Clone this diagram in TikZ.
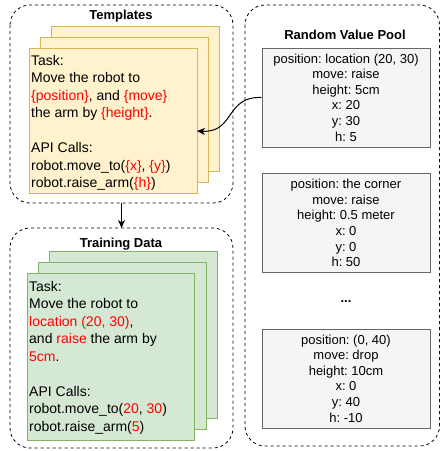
\documentclass[tikz,border=0pt]{standalone}
\usepackage{fontspec}
\setmainfont{Liberation Sans}
\usetikzlibrary{arrows.meta}
\frenchspacing
\definecolor{yfill}{HTML}{FFF2CC}
\definecolor{ydraw}{HTML}{D6B656}
\definecolor{gfill}{HTML}{D5E8D4}
\definecolor{gdraw}{HTML}{82B366}
\definecolor{pfill}{HTML}{F5F5F5}
\definecolor{pdraw}{HTML}{666666}
\definecolor{hl}{HTML}{FF0000}
\newcommand{\hlt}[1]{\textcolor{hl}{#1}}
\tikzset{
  group/.style={draw=black, dashed, dash pattern=on 3pt off 3pt, rounded corners=20pt, line width=0.8pt},
  ypage/.style={draw=ydraw, fill=yfill, line width=1pt},
  gpage/.style={draw=gdraw, fill=gfill, line width=1pt},
  pbox/.style={draw=pdraw, fill=pfill, line width=1pt, minimum width=168pt, minimum height=99pt, inner sep=0pt, align=center, font=\fontsize{13}{15.6}\selectfont},
  gtitle/.style={font=\bfseries\fontsize{13}{15}\selectfont, inner sep=0pt},
  pagetext/.style={anchor=north west, inner sep=0pt, align=left, font=\fontsize{14}{17.5}\selectfont},
  conn/.style={line width=1pt, -{Stealth[length=8pt,width=7pt,inset=2.5pt]}}
}
\begin{document}
\begin{tikzpicture}[x=1pt,y=-1pt]
\useasboundingbox (0,0) rectangle (441,451);
% containers
\draw[group] (10,5) rectangle (233,203);
\coordinate (tplbot) at (121.5,203);
\draw[group] (10,228) rectangle (233,448);
\coordinate (trntop) at (121.5,228);
\draw[group] (245,5) rectangle (439.5,446);
% titles
\node[gtitle] (ttpl) at (121,16) {Templates};
\node[gtitle] (ttrn) at (121,244) {Training Data};
\node[gtitle] (tpool) at (345,35) {Random Value Pool};
% template pages
\draw[ypage] (51,26) rectangle (219,171);
\draw[ypage] (40,37) rectangle (208,182);
\draw[ypage] (29,48) rectangle (197,193);
\coordinate (tplC) at (197,131);
\node[pagetext] (tpltext) at (31,55) {Task:\\
Move the robot to\\
\hlt{\{position\}}, and \hlt{\{move\}}\\
the arm by \hlt{\{height\}}.\\[17.5pt]
API Calls:\\
robot.move\_to(\hlt{\{x\}}, \hlt{\{y\}})\\
robot.raise\_arm(\hlt{\{h\}})};
% training pages
\draw[gpage] (49,251) rectangle (217,418);
\draw[gpage] (38,262) rectangle (206,429);
\draw[gpage] (27,273) rectangle (194,440);
\node[pagetext] (trntext) at (29,281) {Task:\\
Move the robot to\\
\hlt{location (20, 30)},\\
and \hlt{raise} the arm by\\
\hlt{5cm}.\\[17.5pt]
API Calls:\\
robot.move\_to(\hlt{20}, \hlt{30})\\
robot.raise\_arm(\hlt{5})};
% pool boxes
\node[pbox] (p1) at (346,97.5) {position: location (20, 30)\\move: raise\\height: 5cm\\x: 20\\y: 30\\h: 5};
\node[pbox] (p2) at (346,223) {position: the corner\\move: raise\\height: 0.5 meter\\x: 0\\y: 0\\h: 50};
\node[font=\bfseries\fontsize{13}{15}\selectfont, inner sep=0pt] (dots) at (346,302) {...};
\node[pbox] (p3) at (346,378.5) {position: (0, 40)\\move: drop\\height: 10cm\\x: 0\\y: 40\\h: -10};
% connectors
\draw[conn] (p1.west) .. controls (225,96) and (235,133) .. (tplC);
\draw[conn] (tplbot) -- (trntop);
\end{tikzpicture}
\end{document}
